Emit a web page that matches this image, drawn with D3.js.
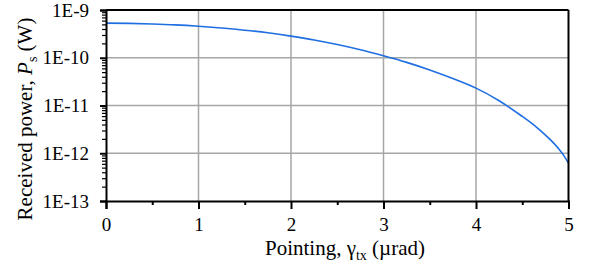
<!DOCTYPE html>
<html>
<head>
<meta charset="utf-8">
<script src="https://cdn.jsdelivr.net/npm/d3@7"></script>
<style>
  body { margin: 0; background: #fff; }
  svg text { font-family: "Liberation Serif", "Times New Roman", serif; fill: #000; }
</style>
</head>
<body>
<svg id="chart"></svg>
<script>
// 读取自图片的数据
const pointing = [0, 0.25, 0.5, 0.75, 1.0, 1.25, 1.5, 1.75, 2.0, 2.25, 2.5, 2.75, 3.0,
  3.25, 3.5, 3.75, 4.0, 4.25, 4.5, 4.6, 4.7, 4.8, 4.9, 4.95, 5.0];
const power = [5.3e-10, 5.25e-10, 5.1e-10, 4.88e-10, 4.57e-10, 4.2e-10, 3.78e-10, 3.33e-10,
  2.84e-10, 2.36e-10, 1.89e-10, 1.47e-10, 1.1e-10, 8.0e-11, 5.55e-11, 3.66e-11, 2.31e-11,
  1.26e-11, 5.9e-12, 4.27e-12, 2.95e-12, 1.95e-12, 1.2e-12, 8.9e-13, 6.2e-13];
const xTicks = [0, 1, 2, 3, 4, 5];
const xMinor = [0.5, 1.5, 2.5, 3.5, 4.5];
const yTicks = [1e-13, 1e-12, 1e-11, 1e-10, 1e-9];
const yLabels = ["1E-13", "1E-12", "1E-11", "1E-10", "1E-9"];

const width = 590, height = 270;
const margin = { top: 10, right: 21.5, bottom: 69, left: 106 };
const w = width - margin.left - margin.right;
const h = height - margin.top - margin.bottom;
const serif = "'Liberation Serif', 'Times New Roman', serif";

const svg = d3.select("#chart").attr("width", width).attr("height", height);
const g = svg.append("g").attr("transform", `translate(${margin.left},${margin.top})`);

const x = d3.scaleLinear().domain([0, 5]).range([0, w]);
const y = d3.scaleLog().domain([1e-13, 1e-9]).range([h, 0]);

// 网格线
const gridColor = "#a6a6a6";
g.append("g").selectAll("line").data(xTicks.slice(1, -1)).enter().append("line")
  .attr("x1", d => x(d)).attr("x2", d => x(d)).attr("y1", 0).attr("y2", h)
  .attr("stroke", gridColor).attr("stroke-width", 1.5);
g.append("g").selectAll("line").data(yTicks.slice(1, -1)).enter().append("line")
  .attr("x1", 0).attr("x2", w).attr("y1", d => y(d)).attr("y2", d => y(d))
  .attr("stroke", gridColor).attr("stroke-width", 1.5);

// 曲线
const line = d3.line().x((d, i) => x(pointing[i])).y(d => y(d)).curve(d3.curveMonotoneX);
g.append("path").datum(power).attr("d", line)
  .attr("fill", "none").attr("stroke", "#1f6fe3").attr("stroke-width", 1.6);

// 边框 (上, 右)
g.append("line").attr("x1", 0).attr("x2", w).attr("y1", 0).attr("y2", 0)
  .attr("stroke", "#000").attr("stroke-width", 2);
g.append("line").attr("x1", w).attr("x2", w).attr("y1", 0).attr("y2", h)
  .attr("stroke", "#000").attr("stroke-width", 2);

// y 轴次刻度
const yMinor = [];
for (let e = -13; e < -9; e++) {
  for (let k = 2; k <= 9; k++) yMinor.push(k * Math.pow(10, e));
}
g.append("g")
  .call(d3.axisLeft(y).tickValues(yMinor).tickSize(4).tickFormat(""))
  .call(a => a.select(".domain").remove())
  .selectAll("line").attr("stroke-width", 1.2);

// y 轴主刻度
const yAxis = g.append("g")
  .attr("font-family", serif).attr("font-size", 19)
  .call(d3.axisLeft(y).tickValues(yTicks).tickSize(6).tickPadding(11)
    .tickFormat((d, i) => yLabels[i]));
yAxis.select(".domain").attr("stroke-width", 2);
yAxis.selectAll("line").attr("stroke-width", 2);
yAxis.selectAll("text").style("font-size", "19px");

// x 轴次刻度
g.append("g").attr("transform", `translate(0,${h})`)
  .call(d3.axisBottom(x).tickValues(xMinor).tickSize(4).tickFormat(""))
  .call(a => a.select(".domain").remove())
  .selectAll("line").attr("stroke-width", 2);

// x 轴主刻度
const xAxis = g.append("g").attr("transform", `translate(0,${h})`)
  .attr("font-family", serif).attr("font-size", 19)
  .call(d3.axisBottom(x).tickValues(xTicks).tickSize(8).tickPadding(9)
    .tickFormat(d3.format("d")));
xAxis.select(".domain").attr("stroke-width", 2);
xAxis.selectAll("line").attr("stroke-width", 2);
xAxis.selectAll("text").style("font-size", "19px");

// x 轴标题
const xt = svg.append("text")
  .attr("x", 345).attr("y", 255)
  .attr("text-anchor", "middle").style("font-size", "21px");
xt.append("tspan").text("Pointing, γ");
xt.append("tspan").text("tx").attr("dy", 5).style("font-size", "14px");
xt.append("tspan").text(" (µrad)").attr("dy", -5);

// y 轴标题
const yt = svg.append("text")
  .attr("transform", `translate(32,119) rotate(-90)`)
  .attr("text-anchor", "middle").style("font-size", "21px");
yt.append("tspan").text("Received power,  ");
yt.append("tspan").text("P").style("font-style", "italic");
yt.append("tspan").text("s").attr("dy", 5).style("font-size", "14px");
yt.append("tspan").text(" (W)").attr("dy", -5);
</script>
</body>
</html>
